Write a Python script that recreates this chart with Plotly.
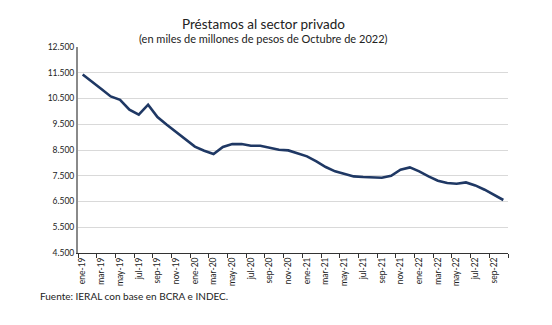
import plotly.graph_objects as go

months = ["ene", "feb", "mar", "abr", "may", "jun", "jul", "ago", "sep", "oct", "nov", "dic"]
years = ["19", "20", "21", "22"]
categories = [f"{m}-{y}" for y in years for m in months][:46]  # ene-19 .. oct-22

values = [11430, 11165, 10870, 10580, 10450, 10065, 9870, 10260, 9780, 9480,
          9185, 8900, 8630, 8472, 8344, 8616, 8733, 8730, 8666, 8666,
          8590, 8510, 8485, 8383, 8253, 8058, 7840, 7670, 7567, 7475,
          7450, 7445, 7424, 7500, 7733, 7825, 7670, 7475, 7307, 7218,
          7190, 7242, 7125, 6957, 6763, 6558]

y_ticks = [4500, 5500, 6500, 7500, 8500, 9500, 10500, 11500, 12500]

font_family = "Lato, Liberation Sans, sans-serif"

W, H = 552, 325
ML, MR, MT, MB = 78, 44, 47, 72
pw, ph = W - ML - MR, H - MT - MB


def px(x):
    return (x - ML) / pw


def py(y):
    return 1 - (y - MT) / ph


fig = go.Figure()
fig.add_trace(go.Scatter(
    x=categories, y=values, mode="lines",
    line=dict(color="#1f3864", width=2.6),
    hoverinfo="skip", showlegend=False,
))

fig.update_layout(
    width=W, height=H,
    margin=dict(l=ML, r=MR, t=MT, b=MB),
    paper_bgcolor="white", plot_bgcolor="white",
    separators=",.",
    font=dict(family=font_family, color="#222222"),
    annotations=[
        dict(text="Préstamos al sector privado", x=px(263), y=py(14),
             xref="paper", yref="paper", showarrow=False,
             font=dict(size=13.5, color="#222222")),
        dict(text="(en miles de millones de pesos de Octubre de 2022)", x=px(263), y=py(30),
             xref="paper", yref="paper", showarrow=False,
             font=dict(size=11, color="#222222")),
        dict(text="Fuente: IERAL con base en BCRA e INDEC.", x=px(38), y=py(304),
             xref="paper", yref="paper", showarrow=False, xanchor="left",
             font=dict(size=10, color="#222222")),
    ],
)

fig.update_xaxes(
    type="category", dtick=2, tickangle=-90,
    tickson="boundaries", ticks="outside", ticklen=4, tickcolor="#333333",
    showline=True, linecolor="#333333", linewidth=1.2,
    showgrid=False, tickfont=dict(size=8.5, color="#222222"),
    range=[-0.5, 45.5],
)
fig.update_yaxes(
    range=[4500, 12500], tickvals=y_ticks, tickformat=",.0f",
    showgrid=True, gridcolor="#d9d9d9", gridwidth=1.3,
    showline=True, linecolor="#8a8a8a", linewidth=2,
    ticks="", zeroline=False, tickfont=dict(size=8.5, color="#222222"),
)

fig.write_html("out.html")
